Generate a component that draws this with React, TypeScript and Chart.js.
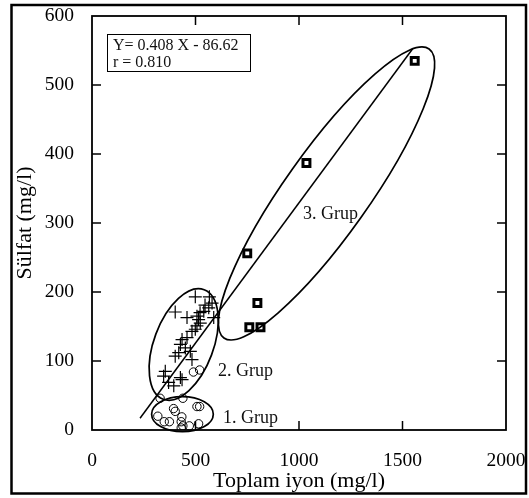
import React, { useEffect, useRef } from "react";
import { Chart, registerables } from "chart.js";

Chart.register(...registerables);

// Grup 1 (circles)
const grup1X = [520, 490, 329, 439, 394, 402, 507, 520, 318, 349, 374, 434, 431, 439, 470, 515, 431];
const grup1Y = [87, 84, 46, 46, 31, 27, 34, 34, 20, 12, 12, 19, 12, 6, 6, 9, 3];

// Grup 2 (crosses)
const grup2X = [499, 567, 402, 564, 588, 540, 459, 507, 515, 523, 507, 499, 483, 459, 435, 427, 451, 475, 402, 419, 483, 354, 346, 427, 435, 370, 395, 580, 546, 522];
const grup2Y = [193, 193, 171, 177, 163, 172, 163, 165, 160, 155, 151, 146, 143, 134, 131, 124, 119, 114, 107, 112, 102, 85, 78, 76, 73, 69, 64, 184, 181, 170];

// Grup 3 (squares)
const grup3X = [1559, 1036, 750, 799, 760, 814];
const grup3Y = [535, 387, 256, 184, 149, 149];

// Regression line end points: Y = 0.408 X - 86.62
const lineX = [232, 1550];
const lineY = [17, 553];

// Ellipses (data units): centre, major-axis end, minor-axis end
const ellCX = [437, 443, 1133];
const ellCY = [22.9, 123.9, 342.8];
const ellAX = [586, 541.9, 1628.6];
const ellAY = [22.9, 203.3, 552.2];
const ellBX = [437, 577.7, 1298.8];
const ellBY = [48.3, 108.9, 307.7];

const groupLabels = ["1. Grup", "2. Grup", "3. Grup"];
const groupLabelX = [633, 609, 1019];
const groupLabelY = [17, 85.5, 313];

const equationLines = ["Y= 0.408 X - 86.62", "r = 0.810"];

const xTickValues = [0, 500, 1000, 1500, 2000];
const yTickValues = [0, 100, 200, 300, 400, 500, 600];

const SERIF = "'Liberation Serif', 'Times New Roman', serif";

const pts = (xs: number[], ys: number[]) => xs.map((x, i) => ({ x, y: ys[i] }));

const decorPlugin = {
  id: "decor",
  afterDatasetsDraw(chart: any) {
    const ctx = chart.ctx as CanvasRenderingContext2D;
    const xs = chart.scales.x;
    const ys = chart.scales.y;
    const ca = chart.chartArea;
    ctx.save();
    ctx.strokeStyle = "#000";
    ctx.fillStyle = "#000";

    // plot box
    ctx.lineWidth = 1.8;
    ctx.strokeRect(ca.left, ca.top, ca.right - ca.left, ca.bottom - ca.top);

    // inward ticks on all four sides
    const tl = 9;
    ctx.lineWidth = 1.5;
    ctx.beginPath();
    xTickValues.slice(1, -1).forEach((v) => {
      const px = xs.getPixelForValue(v);
      ctx.moveTo(px, ca.bottom);
      ctx.lineTo(px, ca.bottom - tl);
      ctx.moveTo(px, ca.top);
      ctx.lineTo(px, ca.top + tl);
    });
    yTickValues.slice(1, -1).forEach((v) => {
      const py = ys.getPixelForValue(v);
      ctx.moveTo(ca.left, py);
      ctx.lineTo(ca.left + tl, py);
      ctx.moveTo(ca.right, py);
      ctx.lineTo(ca.right - tl, py);
    });
    ctx.stroke();

    // ellipses
    ctx.lineWidth = 1.7;
    for (let i = 0; i < ellCX.length; i++) {
      const cx = xs.getPixelForValue(ellCX[i]);
      const cy = ys.getPixelForValue(ellCY[i]);
      const mx = xs.getPixelForValue(ellAX[i]) - cx;
      const my = ys.getPixelForValue(ellAY[i]) - cy;
      const nx = xs.getPixelForValue(ellBX[i]) - cx;
      const ny = ys.getPixelForValue(ellBY[i]) - cy;
      const a = Math.hypot(mx, my);
      const b = Math.hypot(nx, ny);
      const rot = Math.atan2(my, mx);
      ctx.beginPath();
      ctx.ellipse(cx, cy, a, b, rot, 0, Math.PI * 2);
      ctx.stroke();
    }

    // group labels
    ctx.font = `18px ${SERIF}`;
    ctx.fillStyle = "#111";
    ctx.textAlign = "left";
    ctx.textBaseline = "middle";
    groupLabels.forEach((t, i) => {
      ctx.fillText(t, xs.getPixelForValue(groupLabelX[i]), ys.getPixelForValue(groupLabelY[i]));
    });

    // equation box
    const bx = ca.left + 15;
    const by = ca.top + 18;
    ctx.fillStyle = "#fff";
    ctx.fillRect(bx, by, 143, 37);
    ctx.lineWidth = 1;
    ctx.strokeStyle = "#000";
    ctx.strokeRect(bx + 0.5, by + 0.5, 143, 37);
    ctx.fillStyle = "#111";
    ctx.font = `16px ${SERIF}`;
    ctx.textBaseline = "alphabetic";
    ctx.fillText(equationLines[0], bx + 6, by + 16);
    ctx.fillText(equationLines[1], bx + 6, by + 33);

    // outer frame
    ctx.lineWidth = 2.5;
    ctx.strokeStyle = "#000";
    ctx.strokeRect(11.5, 5, 514.5, 488.5);
    ctx.restore();
  },
};

export default function App() {
  const ref = useRef<HTMLCanvasElement | null>(null);
  useEffect(() => {
    if (!ref.current) return;
    const tickFont = { family: SERIF, size: 19.5 };
    const titleFont = { family: SERIF, size: 22 };
    const chart = new Chart(ref.current, {
      type: "scatter",
      data: {
        datasets: [
          {
            label: "1. Grup",
            data: pts(grup1X, grup1Y),
            pointStyle: "circle",
            pointRadius: 4.2,
            borderColor: "#000",
            backgroundColor: "rgba(0,0,0,0)",
            borderWidth: 1,
          },
          {
            label: "2. Grup",
            data: pts(grup2X, grup2Y),
            pointStyle: "cross",
            pointRadius: 6.5,
            borderColor: "#000",
            backgroundColor: "#000",
            borderWidth: 1.2,
          },
          {
            label: "3. Grup",
            data: pts(grup3X, grup3Y),
            pointStyle: "rect",
            pointRadius: 4.9,
            borderColor: "#000",
            backgroundColor: "#fff",
            borderWidth: 3,
          },
          {
            label: "Regresyon",
            type: "line",
            data: pts(lineX, lineY),
            showLine: true,
            pointRadius: 0,
            borderColor: "#000",
            borderWidth: 1.5,
            fill: false,
          } as any,
        ],
      },
      options: {
        animation: false,
        responsive: false,
        devicePixelRatio: 1,
        layout: { padding: { left: 12, top: 16, right: 23, bottom: 4 } },
        plugins: { legend: { display: false }, tooltip: { enabled: false } },
        scales: {
          x: {
            type: "linear",
            min: 0,
            max: 2000,
            ticks: {
              stepSize: 500,
              font: tickFont,
              color: "#000",
              padding: 19,
              maxRotation: 0,
              autoSkip: false,
              callback: (v: any) => String(v),
            },
            grid: { display: false, drawTicks: false },
            border: { display: false },
            title: { display: true, text: "Toplam iyon (mg/l)", font: titleFont, color: "#000", padding: 0 },
            afterFit: (s: any) => {
              s.height = 64;
              s.paddingLeft = 0;
              s.paddingRight = 0;
            },
          },
          y: {
            type: "linear",
            min: 0,
            max: 600,
            ticks: {
              stepSize: 100,
              font: tickFont,
              color: "#000",
              padding: 18,
              autoSkip: false,
              callback: (v: any) => String(v),
            },
            grid: { display: false, drawTicks: false },
            border: { display: false },
            title: { display: true, text: "Sülfat (mg/l)", font: titleFont, color: "#000", padding: 0 },
            afterFit: (s: any) => {
              s.width = 80;
              s.paddingTop = 0;
              s.paddingBottom = 0;
            },
          },
        },
      },
      plugins: [decorPlugin],
    });
    return () => chart.destroy();
  }, []);
  return (
    <div style={{ position: "fixed", left: 0, top: 0, width: 529, height: 498, background: "#fff" }}>
      <canvas ref={ref} width={529} height={498} style={{ display: "block", width: 529, height: 498 }} />
    </div>
  );
}
